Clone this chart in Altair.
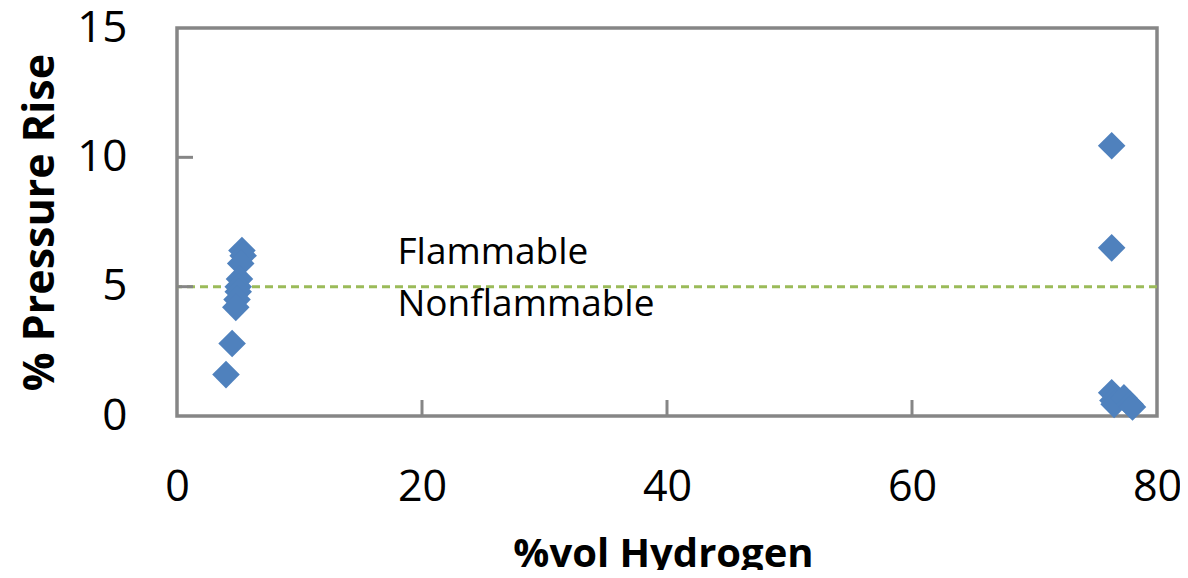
import altair as alt
import pandas as pd

# Data
hydrogen = [5.3, 5.4, 5.2, 5.1, 5.0, 5.0, 4.9, 4.8, 4.5, 4.0,
            76.3, 76.3, 76.3, 76.4, 76.5, 77.3, 77.8, 78.0]
pressure = [6.4, 6.2, 5.9, 5.3, 5.0, 4.8, 4.5, 4.2, 2.8, 1.6,
            10.45, 6.5, 0.9, 0.6, 0.45, 0.7, 0.45, 0.35]

threshold = [5]
label_text = ["Flammable", "Nonflammable"]
label_x = [18, 18]
label_y = [6.3, 4.3]

x_ticks = [0, 20, 40, 60, 80]
y_ticks = [0, 5, 10, 15]
x_inner_ticks = [20, 40, 60]
y_inner_ticks = [5, 10]

W, H = 980, 388
FONT = "Open Sans"

df = pd.DataFrame({"h": hydrogen, "p": pressure})
thr = pd.DataFrame({"y": threshold})
lab = pd.DataFrame({"t": label_text, "x": label_x, "y": label_y})
xt = pd.DataFrame({"x": x_inner_ticks})
yt = pd.DataFrame({"y": y_inner_ticks})

xscale = alt.Scale(domain=[0, 80], nice=False)
yscale = alt.Scale(domain=[0, 15], nice=False)

xaxis = alt.Axis(values=x_ticks, grid=False, ticks=False, domain=False,
                 labelFontSize=43, labelFont=FONT, labelColor="black",
                 labelFlush=False, labelPadding=50,
                 title="%vol Hydrogen", titleFont=FONT,
                 titleFontSize=40, titleFontWeight="bold", titleColor="black",
                 titleX=W / 2 - 4, titleY=150, titleBaseline="alphabetic",
                 titleAlign="center")
yaxis = alt.Axis(values=y_ticks, grid=False, ticks=False, domain=False,
                 labelFontSize=44, labelFont=FONT, labelColor="black",
                 labelFlush=False, labelPadding=50,
                 title="% Pressure Rise", titleFont=FONT,
                 titleFontSize=43, titleFontWeight="bold", titleColor="black",
                 titleX=-137, titleY=H / 2, titleBaseline="middle",
                 titleAlign="center", titleAngle=-90)

points = alt.Chart(df).mark_point(
    shape="diamond", filled=True, size=760, color="#4F81BD", opacity=1
).encode(
    x=alt.X("h:Q", scale=xscale, axis=xaxis),
    y=alt.Y("p:Q", scale=yscale, axis=yaxis),
)

line = alt.Chart(thr).mark_rule(color="#9BBB59", strokeWidth=3, strokeDash=[8, 5]).encode(
    y=alt.Y("y:Q", scale=yscale)
)

texts = alt.Chart(lab).mark_text(
    align="left", baseline="middle", fontSize=37, font=FONT, color="black"
).encode(
    x=alt.X("x:Q", scale=xscale),
    y=alt.Y("y:Q", scale=yscale),
    text="t:N",
)

xtick_marks = alt.Chart(xt).mark_rule(color="#868686", strokeWidth=3).encode(
    x=alt.X("x:Q", scale=xscale),
    y=alt.value(H - 16),
    y2=alt.value(H),
)
ytick_marks = alt.Chart(yt).mark_rule(color="#868686", strokeWidth=3).encode(
    y=alt.Y("y:Q", scale=yscale),
    x=alt.value(0),
    x2=alt.value(16),
)

chart = alt.layer(line, xtick_marks, ytick_marks, points, texts).properties(
    width=W, height=H,
    autosize=alt.AutoSizeParams(type="none"),
    padding={"left": 169, "top": 20, "right": 23, "bottom": 154},
).configure_view(
    stroke="#868686", strokeWidth=3.5
)

chart.save("out.html", embed_options={"renderer": "svg", "actions": False})
